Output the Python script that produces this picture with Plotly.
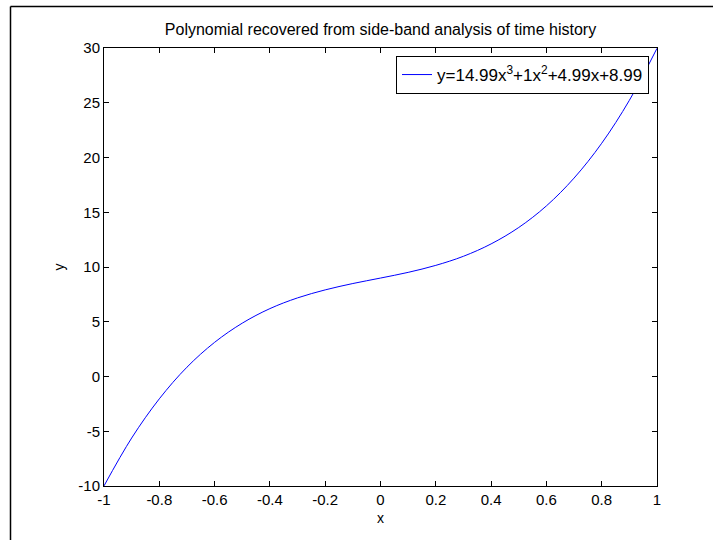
import plotly.graph_objects as go

# values
x_vals = [-1.0, -0.9, -0.8, -0.7, -0.6, -0.5, -0.4, -0.3, -0.2, -0.1, 0.0,
          0.1, 0.2, 0.3, 0.4, 0.5, 0.6, 0.7, 0.8, 0.9, 1.0]
y_vals = [-9.99, -5.62, -2.04, 0.85, 3.12, 4.87, 6.20, 7.18, 7.91, 8.49, 8.99,
          9.51, 10.15, 10.98, 12.11, 13.61, 15.58, 18.12, 21.30, 25.22, 29.97]
x_ticks = [-1, -0.8, -0.6, -0.4, -0.2, 0, 0.2, 0.4, 0.6, 0.8, 1]
x_tick_text = ["-1", "-0.8", "-0.6", "-0.4", "-0.2", "0", "0.2", "0.4", "0.6", "0.8", "1"]
y_ticks = [-10, -5, 0, 5, 10, 15, 20, 25, 30]
y_tick_text = ["-10", "-5", "0", "5", "10", "15", "20", "25", "30"]
legend_label = "y=14.99x<sup>3</sup>+1x<sup>2</sup>+4.99x+8.99"
title_text = "Polynomial recovered from side-band analysis of time history"

W, H = 713, 540
L, R, T, B = 104, 657, 48, 486
pw, ph = R - L, B - T

def px_x(p):
    return (p - L) / pw

def px_y(p):
    return (B - p) / ph

fig = go.Figure()
fig.add_trace(go.Scatter(x=x_vals, y=y_vals, mode="lines", line=dict(color="#0000ff", width=1, shape="spline"),
                         name=legend_label, showlegend=True))

font = "Liberation Sans, Arial, sans-serif"
axis_common = dict(showline=True, linecolor="black", linewidth=1, mirror="ticks", ticks="inside",
                   ticklen=5, tickcolor="black", showgrid=False, zeroline=False,
                   tickfont=dict(family=font, size=15, color="black"))

fig.update_layout(
    width=W, height=H,
    margin=dict(l=L, r=W - R, t=T, b=H - B),
    paper_bgcolor="white", plot_bgcolor="white",
    title=dict(text=title_text, x=0.5 * (L + R) / W, xanchor="center", y=1 - 29 / H, yanchor="middle",
               font=dict(family=font, size=16, color="black")),
    xaxis=dict(range=[-1, 1], tickvals=x_ticks, ticktext=x_tick_text,
               title=dict(text="x", font=dict(family=font, size=14, color="black"), standoff=6), **axis_common),
    yaxis=dict(range=[-10, 30], tickvals=y_ticks, ticktext=y_tick_text,
               title=dict(text="y", font=dict(family=font, size=14, color="black"), standoff=10), **axis_common),
    legend=dict(x=px_x(649), y=px_y(56), xanchor="right", yanchor="top", bgcolor="white",
                bordercolor="black", borderwidth=1, font=dict(family=font, size=17, color="black"),
                itemwidth=30),
    showlegend=True,
)

fig.add_shape(type="line", xref="paper", yref="paper", x0=px_x(10.5), x1=px_x(713), y0=px_y(6.5), y1=px_y(6.5),
              line=dict(color="black", width=1.5))
fig.add_shape(type="line", xref="paper", yref="paper", x0=px_x(10.5), x1=px_x(10.5), y0=px_y(6.5), y1=px_y(540),
              line=dict(color="black", width=1.5))

fig.write_html("out.html")
